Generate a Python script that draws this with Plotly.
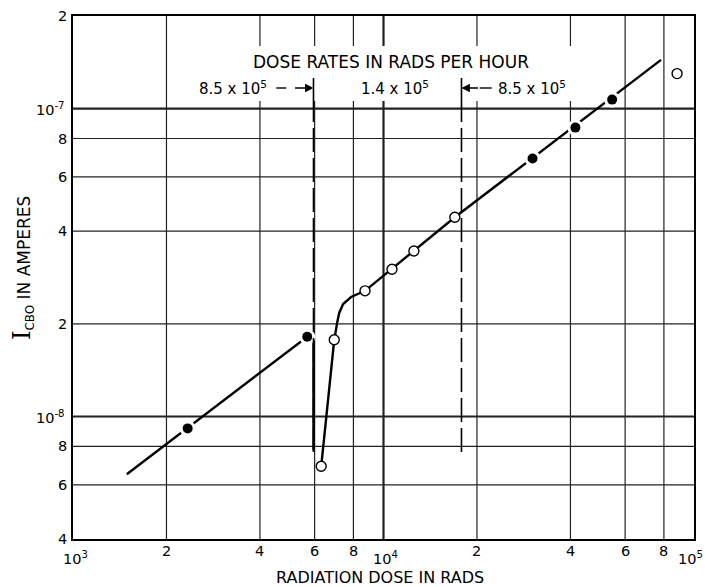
import numpy as np
import plotly.graph_objects as go

# Measured points: collector cut-off current vs accumulated dose
filled_dose = [2340, 5680, 30200, 41500, 54500]
filled_icbo = [9.15e-9, 1.815e-8, 6.89e-8, 8.68e-8, 1.07e-7]
open_dose = [6300, 6940, 8720, 10650, 12530, 16970, 88200]
open_icbo = [6.89e-9, 1.775e-8, 2.56e-8, 3.01e-8, 3.45e-8, 4.44e-8, 1.30e-7]

# Faired curves through the data
curve_a_dose = [1490, 5680, 5950, 5950]
curve_a_icbo = [6.49e-9, 1.815e-8, 1.86e-8, 7.75e-9]
curve_b_dose = [6300, 6940, 7090, 7200, 7413, 7864, 8720, 16970, 78300]
curve_b_icbo = [6.89e-9, 1.775e-8, 2.014e-8, 2.17e-8, 2.32e-8, 2.445e-8, 2.56e-8, 4.44e-8, 1.44e-7]

# Dose-rate change boundaries
rate_change_dose = [5950, 17830]
rate_labels = ["8.5 x 10<sup>5</sup>", "1.4 x 10<sup>5</sup>", "8.5 x 10<sup>5</sup>"]

# Axis ticks / grid
x_tick_vals = [1e3, 2e3, 4e3, 6e3, 8e3, 1e4, 2e4, 4e4, 6e4, 8e4, 1e5]
x_tick_text = ["10<sup>3</sup>", "2", "4", "6", "8", "10<sup>4</sup>", "2", "4", "6", "8", "10<sup>5</sup>"]
y_tick_vals = [4e-9, 6e-9, 8e-9, 1e-8, 2e-8, 4e-8, 6e-8, 8e-8, 1e-7, 2e-7]
y_tick_text = ["4", "6", "8", "10<sup>-8</sup>", "2", "4", "6", "8", "10<sup>-7</sup>", "2"]

X_RANGE = [3.0, 5.0]
Y_RANGE = [np.log10(4e-9), np.log10(2e-7)]
FONT = "DejaVu Sans"
W, H = 706, 587
L, R, T, B = 73, 10, 16, 48
PW, PH = W - L - R, H - T - B


def px_to_paper_x(px):
    return (px - L) / PW


def px_to_paper_y(py):
    return (H - B - py) / PH


def is_decade(v):
    return abs(np.log10(v) - round(np.log10(v))) < 1e-9


fig = go.Figure()

# curves
line_style = dict(color="black", width=2.4)
fig.add_trace(go.Scatter(x=curve_a_dose, y=curve_a_icbo, mode="lines", line=line_style,
                         hoverinfo="skip", showlegend=False))
fig.add_trace(go.Scatter(x=curve_b_dose, y=curve_b_icbo, mode="lines", line=line_style,
                         hoverinfo="skip", showlegend=False))

# white halo around filled points breaks the curve
fig.add_trace(go.Scatter(x=filled_dose, y=filled_icbo, mode="markers",
                         marker=dict(size=16, color="white", line=dict(width=0)),
                         hoverinfo="skip", showlegend=False))
fig.add_trace(go.Scatter(x=filled_dose, y=filled_icbo, mode="markers",
                         marker=dict(size=10, color="black", line=dict(width=0)),
                         showlegend=False))
fig.add_trace(go.Scatter(x=open_dose, y=open_icbo, mode="markers",
                         marker=dict(size=10, color="white", line=dict(width=1.4, color="black")),
                         showlegend=False))

# grid lines (shape coordinates are data values on log axes)
for v in x_tick_vals[1:-1]:
    lw = 2.2 if is_decade(v) else 1.2
    fig.add_shape(type="line", xref="x", yref="paper", x0=v, x1=v,
                  y0=0, y1=1, line=dict(color="#222", width=lw), layer="below")
for v in y_tick_vals[1:-1]:
    lw = 2.2 if is_decade(v) else 1.2
    fig.add_shape(type="line", xref="paper", yref="y", x0=0, x1=1,
                  y0=v, y1=v, line=dict(color="#222", width=lw), layer="below")

# clear panel behind the dose-rate header
fig.add_shape(type="rect", xref="paper", yref="paper",
              x0=px_to_paper_x(193), x1=px_to_paper_x(584),
              y0=px_to_paper_y(101), y1=px_to_paper_y(46),
              fillcolor="white", line=dict(width=0), layer="below")

# dose-rate boundaries: solid stub at top, long dashes below
for d in rate_change_dose:
    fig.add_shape(type="line", xref="x", yref="paper", x0=d, x1=d,
                  y0=px_to_paper_y(108), y1=px_to_paper_y(78),
                  line=dict(color="black", width=1.6))
    fig.add_shape(type="line", xref="x", yref="paper", x0=d, x1=d,
                  y0=px_to_paper_y(452), y1=px_to_paper_y(108),
                  line=dict(color="black", width=1.6, dash="24px,6px"))

annotations = []
tick_font = dict(family=FONT, size=14.5, color="black")
label_font = dict(family=FONT, size=15, color="black")
title_font = dict(family=FONT, size=17, color="black")

# x tick labels
for v, t in zip(x_tick_vals, x_tick_text):
    decade = "sup" in t
    xshift = -6 if v == x_tick_vals[-1] else 0
    annotations.append(dict(x=np.log10(v), y=0, xref="x", yref="paper", text=t, showarrow=False,
                            xanchor="center", yanchor="top", xshift=xshift + (2 if decade else 0),
                            yshift=-8 if decade else -2, font=tick_font))
# y tick labels
for v, t in zip(y_tick_vals, y_tick_text):
    decade = "sup" in t
    annotations.append(dict(x=0, y=np.log10(v), xref="paper", yref="y", text=t, showarrow=False,
                            xanchor="right", yanchor="middle", xshift=-6 if decade else -4,
                            font=tick_font))

# axis titles
annotations.append(dict(x=px_to_paper_x(381), y=0, xref="paper", yref="paper",
                        text="RADIATION DOSE IN RADS",
                        showarrow=False, xanchor="center", yanchor="middle", yshift=-38,
                        font=dict(family=FONT, size=16, color="black")))
annotations.append(dict(x=0, y=px_to_paper_y(268), xref="paper", yref="paper",
                        text='<span style="font-family:DejaVu Serif;font-size:24px">I</span>'
                             '<sub>CBO</sub> IN AMPERES',
                        showarrow=False, textangle=-90, xanchor="center", yanchor="middle",
                        xshift=22 - L, font=dict(family=FONT, size=17, color="black")))

# dose rate header and labels
row_y = px_to_paper_y(88)
annotations.append(dict(x=px_to_paper_x(392), y=px_to_paper_y(62), xref="paper", yref="paper",
                        text="DOSE RATES IN RADS PER HOUR", showarrow=False,
                        xanchor="center", yanchor="middle", font=title_font))
annotations.append(dict(x=px_to_paper_x(270), y=row_y, xref="paper", yref="paper",
                        text=rate_labels[0], showarrow=False, xanchor="right", yanchor="middle",
                        font=label_font))
annotations.append(dict(x=px_to_paper_x(396), y=row_y, xref="paper", yref="paper",
                        text=rate_labels[1], showarrow=False, xanchor="center", yanchor="middle",
                        font=label_font))
annotations.append(dict(x=px_to_paper_x(497), y=row_y, xref="paper", yref="paper",
                        text=rate_labels[2], showarrow=False, xanchor="left", yanchor="middle",
                        font=label_font))
# arrows pointing at the boundaries
annotations.append(dict(x=np.log10(rate_change_dose[0]), y=row_y, xref="x", yref="paper",
                        text="", showarrow=True, ax=-20, ay=0, arrowhead=2, arrowsize=1.2,
                        arrowwidth=1.4, arrowcolor="black"))
annotations.append(dict(x=np.log10(rate_change_dose[1]), y=row_y, xref="x", yref="paper",
                        text="", showarrow=True, ax=18, ay=0, arrowhead=2, arrowsize=1.2,
                        arrowwidth=1.4, arrowcolor="black"))
# short dashes in the arrow shafts
for a, b in [(277, 287), (481, 493)]:
    fig.add_shape(type="line", xref="paper", yref="paper",
                  x0=px_to_paper_x(a), x1=px_to_paper_x(b), y0=row_y, y1=row_y,
                  line=dict(color="black", width=1.4))

fig.update_layout(
    width=W, height=H,
    margin=dict(l=L, r=R, t=T, b=B),
    paper_bgcolor="white", plot_bgcolor="white",
    showlegend=False,
    annotations=annotations,
    xaxis=dict(type="log", range=X_RANGE, showgrid=False, zeroline=False,
               showticklabels=False, ticks="", showline=True, mirror=True,
               linecolor="black", linewidth=2),
    yaxis=dict(type="log", range=Y_RANGE, showgrid=False, zeroline=False,
               showticklabels=False, ticks="", showline=True, mirror=True,
               linecolor="black", linewidth=2),
)

fig.write_html("out.html")
